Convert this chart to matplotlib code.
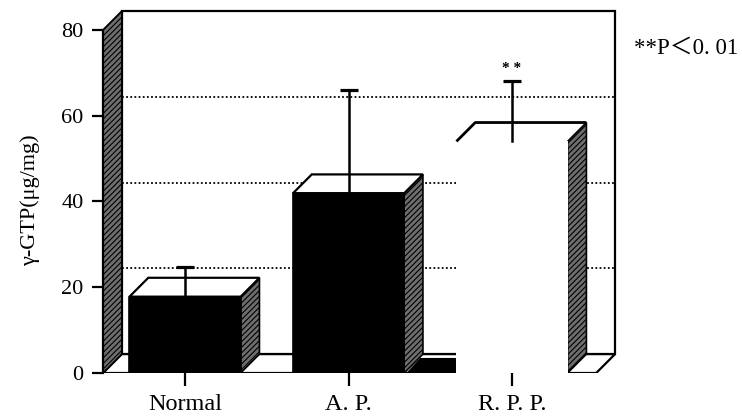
import matplotlib
matplotlib.use("Agg")
import matplotlib.pyplot as plt
from matplotlib.patches import Polygon

# values
groups = ["Normal", "A. P.", "R. P. P."]
means = [17.8, 41.9, 54.0]
err_up = [6.9, 24.1, 14.0]
bar_fill = ["black", "black", "white"]
yticks = [0, 20, 40, 60, 80]
note = "**P\uff1c0. 01"

SERIF = ["Liberation Serif", "DejaVu Serif"]
plt.rcParams["font.family"] = SERIF
plt.rcParams["hatch.linewidth"] = 0.8

# pseudo-3D geometry (data units)
w = 0.68      # bar width
dx = 0.115    # depth offset in x
dy = 4.4      # depth offset in y
x_left = -0.502
x_back_right = 2.63
ymax = 80

fig = plt.figure(figsize=(7.42, 4.2), dpi=100)
ax = fig.add_axes([103 / 742, 47 / 420, 522 / 742, 368 / 420])
ax.set_xlim(x_left, 2.691)
ax.set_ylim(0, 85.8)

side_kw = dict(facecolor="#6e6e6e", edgecolor="black", hatch="//////", lw=1.2)

# back wall
ax.add_patch(Polygon([(x_left + dx, dy), (x_left + dx, ymax + dy),
                      (x_back_right, ymax + dy), (x_back_right, dy)],
                     closed=True, facecolor="white", edgecolor="black", lw=1.6, zorder=1))
# dotted grid on the back wall
for t in yticks[1:-1]:
    ax.plot([x_left + dx, x_back_right], [t + dy, t + dy], color="black",
            ls=(0, (1, 1.3)), lw=1.3, zorder=1.5)

# floor
ax.add_patch(Polygon([(x_left, 0), (x_back_right - dx, 0), (x_back_right, dy), (x_left + dx, dy)],
                     closed=True, facecolor="white", edgecolor="black", lw=1.6, zorder=2))
# left wall
ax.add_patch(Polygon([(x_left, 0), (x_left, ymax), (x_left + dx, ymax + dy), (x_left + dx, dy)],
                     closed=True, zorder=2.5, **side_kw))

# dark smudge on the floor between A.P. and R.P.P. (printed that way)
a_r = 1 + w / 2
r_l = 2 - w / 2
ax.add_patch(Polygon([(a_r + 0.02, 0.3), (r_l - 0.01, 0.3), (r_l - 0.01, dy * 0.8), (a_r + 0.1, dy * 0.8)],
                     closed=True, facecolor="black", edgecolor="black", lw=0.8, zorder=2.6))

for i, (h, fc) in enumerate(zip(means, bar_fill)):
    x0, x1 = i - w / 2, i + w / 2
    z = 3 + i
    # side face
    ax.add_patch(Polygon([(x1, 0), (x1, h), (x1 + dx, h + dy), (x1 + dx, dy)],
                         closed=True, zorder=z, **side_kw))
    if fc == "black":
        # top face
        ax.add_patch(Polygon([(x0, h), (x0 + dx, h + dy), (x1 + dx, h + dy), (x1, h)],
                             closed=True, facecolor="white", edgecolor="black", lw=1.6, zorder=z))
        ax.add_patch(Polygon([(x0, 0), (x0, h), (x1, h), (x1, 0)],
                             closed=True, facecolor="black", edgecolor="black", lw=1.2, zorder=z + 0.1))
    else:
        # white bar: only the top outline is printed
        ax.add_patch(Polygon([(x0, 0), (x0, h), (x1, h), (x1, 0)],
                             closed=True, facecolor="white", edgecolor="none", zorder=z + 0.1))
        ax.plot([x0, x0 + dx, x1 + dx], [h, h + dy, h + dy], color="black", lw=2.0,
                solid_capstyle="butt", zorder=z + 0.2)

# error bars (upper only, cap on top)
for i, (h, e) in enumerate(zip(means, err_up)):
    ax.plot([i, i], [h, h + e], color="black", lw=1.8, zorder=9)
    ax.plot([i], [h + e], marker="_", markersize=13, mew=2.3, color="black", zorder=9)
ax.text(2, means[2] + err_up[2] + 1.4, "* *", ha="center", va="bottom", fontsize=11,
        fontweight="bold", zorder=9)

# axes styling
for s in ["top", "right", "bottom"]:
    ax.spines[s].set_visible(False)
ax.spines["left"].set_bounds(0, ymax)
ax.spines["left"].set_linewidth(1.6)
ax.spines["left"].set_zorder(3)
ax.set_yticks(yticks)
ax.set_xticks(range(len(groups)))
ax.set_xticklabels(groups)
ax.tick_params(axis="y", direction="out", length=8, width=1.6, pad=6, labelsize=16)
ax.tick_params(axis="x", direction="out", length=9, width=1.6, pad=6, labelsize=17.5)
ax.set_ylabel("\u03b3-GTP(\u03bcg/mg)", fontsize=16)
ax.yaxis.set_label_coords(-0.12, 0.47)

fig.text(634 / 742, 1 - 48 / 420, note, fontsize=16.5, ha="left", va="center",
         family=["Liberation Serif", "Noto Sans CJK JP"])

fig.savefig("out.png", dpi=100)
